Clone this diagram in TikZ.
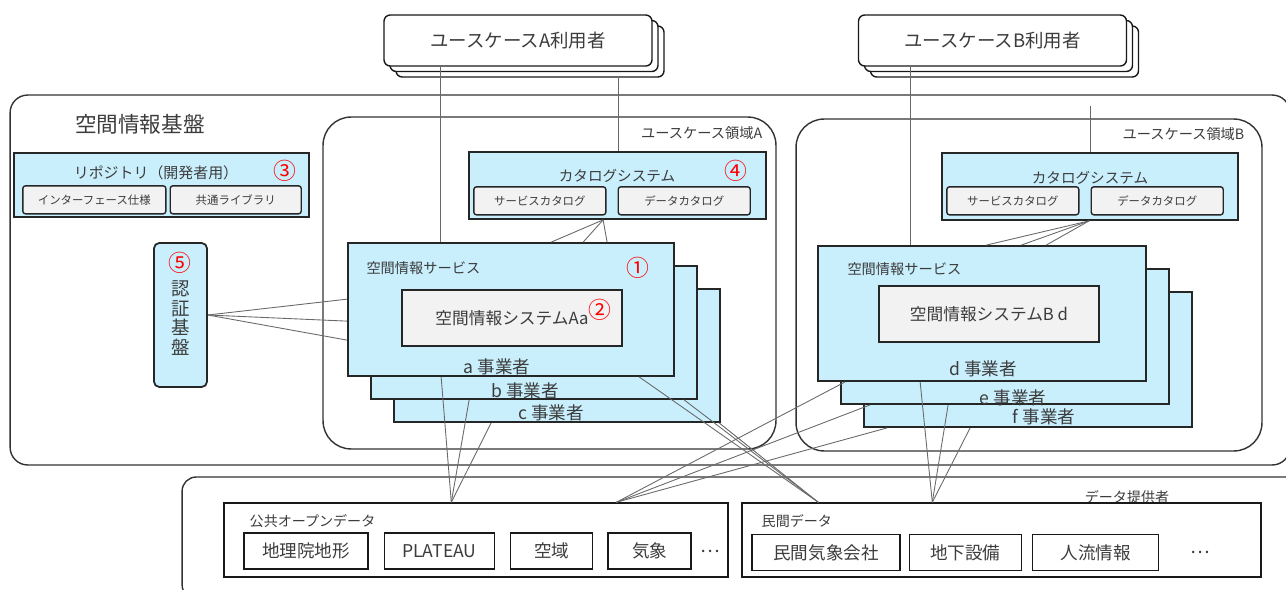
\documentclass[tikz,border=0pt]{standalone}
\usepackage{fontspec}
\setmainfont{Noto Sans CJK JP}
\usepackage{tikz}
\usetikzlibrary{positioning}
\definecolor{skyfill}{RGB}{201,239,253}
\definecolor{boxgray}{RGB}{242,242,242}
\definecolor{inkgray}{RGB}{60,60,60}
\definecolor{linkgray}{RGB}{105,105,105}
\newcommand{\fsz}[1]{\fontsize{#1}{#1}\selectfont}

\begin{document}
\begin{tikzpicture}[x=0.02cm,y=-0.02cm,
        every node/.style={text=inkgray},
        frame/.style={draw=black!80, line width=0.8pt, rounded corners=#1, inner sep=0pt},
        bluebox/.style={draw=black!85, fill=skyfill, line width=1pt, inner sep=0pt},
        sysbox/.style={draw=black!85, fill=boxgray, line width=1pt, inner sep=0pt, font=\fsz{9.5pt}},
        subbox/.style={draw=black!85, fill=boxgray, line width=0.8pt, rounded corners=1.5pt,
            inner sep=0pt, minimum height=0.56cm, font=\fsz{6.5pt}},
        usrbox/.style={draw=black!90, fill=white, line width=0.8pt, rounded corners=3.5pt,
            minimum width=5.36cm, minimum height=1.02cm, inner sep=0pt, font=\fsz{10.5pt}},
        databox/.style={draw=black!90, fill=white, line width=0.8pt, inner sep=0pt},
        itembox/.style={draw=black!90, fill=white, line width=0.8pt, inner sep=0pt,
            minimum height=0.72cm, font=\fsz{10pt}},
        tag/.style={inner sep=0pt, font=\fsz{8.1pt}},
        opname/.style={inner sep=0pt, font=\fsz{10pt}},
        num/.style={text=red, inner sep=0pt, font=\fsz{13pt}},
        link/.style={draw=linkgray, line width=0.5pt}
        ]
        \useasboundingbox (0,0) rectangle (1286,589);

        \node [usrbox] (uA3) at (530,51.5) {};
        \node [usrbox, xshift=-0.12cm, yshift=0.11cm] (uA2) at (uA3) {};
        \node [usrbox, xshift=-0.12cm, yshift=0.11cm] (uA) at (uA2) {ユースケースA利用者};
        \node [usrbox] (uB3) at (1004.5,51.5) {};
        \node [usrbox, xshift=-0.12cm, yshift=0.11cm] (uB2) at (uB3) {};
        \node [usrbox, xshift=-0.12cm, yshift=0.11cm] (uB) at (uB2) {ユースケースB利用者};

        \node [frame=10pt, minimum width=25.6cm, minimum height=7.4cm] (base) at (650,280) {};
        \node [font=\fsz{12.3pt}] (basettl) at (140,124) {空間情報基盤};

        \node [frame=16pt, minimum width=9.06cm, minimum height=6.64cm] (ucA) at (549.5,283) {};
        \node [tag, below left=0.2cm and 0.28cm of ucA.north east] (ucAttl) {ユースケース領域A};
        \node [frame=16pt, minimum width=9.32cm, minimum height=6.64cm] (ucB) at (1029,285) {};
        \node [tag, below left=0.18cm and 0.36cm of ucB.north east] (ucBttl) {ユースケース領域B};

        \node [bluebox, minimum width=5.9cm, minimum height=1.28cm] (repo) at (161.5,185) {};
        \node [font=\fsz{8.5pt}] (repottl) at (156,173) {リポジトリ（開発者用）};
        \node [num] at (285,171) {③};
        \node [subbox, minimum width=2.86cm, below right=0.66cm and 0.18cm of repo.north west] (ifspec) {インターフェース仕様};
        \node [subbox, minimum width=2.62cm, right=0.06cm of ifspec] (commonlib) {共通ライブラリ};

        \node [bluebox, minimum width=5.94cm, minimum height=1.34cm] (catA) at (617.5,185.5) {};
        \node [font=\fsz{8.3pt}] (catAttl) at (617,176) {カタログシステム};
        \node [num] at (736,171) {④};
        \node [subbox, minimum width=2.64cm, below right=0.7cm and 0.1cm of catA.north west] (svccatA) {サービスカタログ};
        \node [subbox, minimum width=2.64cm, right=0.22cm of svccatA] (datcatA) {データカタログ};

        \node [bluebox, minimum width=5.92cm, minimum height=1.34cm] (catB) at (1090,186.5) {};
        \node [font=\fsz{8.3pt}] (catBttl) at (1090,178) {カタログシステム};
        \node [subbox, minimum width=2.64cm, below right=0.68cm and 0.1cm of catB.north west] (svccatB) {サービスカタログ};
        \node [subbox, minimum width=2.64cm, right=0.22cm of svccatB] (datcatB) {データカタログ};

        \node [bluebox, rounded corners=3pt, minimum width=1.06cm, minimum height=2.88cm] (auth) at (180.5,315) {};
        \node [num] at (180,263) {⑤};
        \node [inner sep=0pt, align=center, font=\fontsize{10.5pt}{11.2pt}\selectfont] (authttl) at (180.5,318) {認\\証\\基\\盤};

        \node [bluebox, minimum width=6.52cm, minimum height=2.66cm] (svcAc) at (557,355.5) {};
        \node [bluebox, minimum width=6.52cm, minimum height=2.66cm, xshift=-0.46cm, yshift=0.46cm] (svcAb) at (svcAc) {};
        \node [bluebox, minimum width=6.52cm, minimum height=2.66cm, xshift=-0.46cm, yshift=0.46cm] (svcA) at (svcAb) {};
        \node [tag, below right=0.38cm and 0.38cm of svcA.north west] (svcAttl) {空間情報サービス};
        \node [num] at (638,268) {①};
        \node [sysbox, minimum width=4.4cm, minimum height=1.12cm] (sysA) at (512,318) {空間情報システムAa};
        \node [num] at (600,310) {②};
        \node [opname] at (497,367) {a 事業者};
        \node [opname] at (525,391) {b 事業者};
        \node [opname] at (551,413) {c 事業者};

        \node [bluebox, minimum width=6.56cm, minimum height=2.7cm] (svcBc) at (1028,359.5) {};
        \node [bluebox, minimum width=6.56cm, minimum height=2.7cm, xshift=-0.46cm, yshift=0.46cm] (svcBb) at (svcBc) {};
        \node [bluebox, minimum width=6.56cm, minimum height=2.7cm, xshift=-0.46cm, yshift=0.46cm] (svcB) at (svcBb) {};
        \node [tag, below right=0.34cm and 0.6cm of svcB.north west] (svcBttl) {空間情報サービス};
        \node [sysbox, minimum width=4.4cm, minimum height=1.12cm] (sysB) at (989,314) {空間情報システムB d};
        \node [opname] at (983,369) {d 事業者};
        \node [opname] at (1013,398) {e 事業者};
        \node [opname] at (1044,417) {f 事業者};

        \node [frame=8pt, minimum width=22.36cm, minimum height=2.44cm] (prov) at (741,538) {};
        \node [font=\fsz{8pt}] (provttl) at (1127,497) {データ提供者};

        \node [databox, minimum width=10.08cm, minimum height=1.48cm] (pubD) at (476,540) {};
        \node [inner sep=0pt, font=\fsz{8pt}, below right=0.24cm and 0.52cm of pubD.north west] (pubttl) {公共オープンデータ};
        \node [itembox, minimum width=2.48cm] (gsi) at (306,551) {地理院地形};
        \node [itembox, minimum width=2.2cm, right=0.3cm of gsi] (plateau) {PLATEAU};
        \node [itembox, minimum width=1.64cm, right=0.3cm of plateau] (airsp) {空域};
        \node [itembox, minimum width=1.66cm, right=0.28cm of airsp] (wthr) {気象};
        \node [inner sep=0pt, font=\fsz{10.5pt}, right=0.16cm of wthr] (pubmore) {…};

        \node [databox, minimum width=10.38cm, minimum height=1.48cm] (privD) at (1001.5,540) {};
        \node [inner sep=0pt, font=\fsz{8pt}, below right=0.24cm and 0.4cm of privD.north west] (privttl) {民間データ};
        \node [itembox, minimum width=2.96cm] (pwx) at (826,552.5) {民間気象会社};
        \node [itembox, minimum width=2.24cm, right=0.16cm of pwx] (ugeq) {地下設備};
        \node [itembox, minimum width=2.52cm, right=0.2cm of ugeq] (flow) {人流情報};
        \node [inner sep=0pt, font=\fsz{10.5pt}, right=0.62cm of flow] (privmore) {…};

        \coordinate (uAdrop) at (440,0);
        \coordinate (uAcat) at (618,0);
        \coordinate (uBdrop) at (910,0);
        \coordinate (uBcat) at (1090,106);

        \path [link]
        (uA.south -| uAdrop) edge (svcA.north -| uAdrop)
        (uA3.south -| uAcat) edge (catA.north -| uAcat)
        (uB.south -| uBdrop) edge (svcB.north -| uBdrop)
        (uBcat) edge (catB.north -| uBcat)
        ;

        \foreach \d in {4.08,4.72,5.2}
            \draw [link] ([xshift=2.7cm]catA.south west) -- ([xshift=\d cm]svcA.north west);
        \foreach \d in {3.38,4.08,4.58}
            \draw [link] ([xshift=2.96cm]catB.south west) -- ([xshift=\d cm]svcB.north west);
        \foreach \d in {1.14,1.58,1.96}
            \draw [link] (auth.east) -- ([yshift=-\d cm]svcA.north west);

        \foreach \src/\d in {svcA/1.88,svcAb/1.98,svcAc/1.96}
            \draw [link] ([xshift=\d cm]\src.south west) -- ([xshift=4.56cm]pubD.north west);
        \foreach \src/\d in {svcA/5.84,svcAb/6.28,svcAc/6.52}
            \draw [link] ([xshift=\d cm]\src.south west) -- ([xshift=1.54cm]privD.north west);
        \foreach \src/\d in {svcB/0.56,svcBb/0.6,svcBc/0.48}
            \draw [link] ([xshift=\d cm]\src.south west) -- ([xshift=7.86cm]pubD.north west);
        \foreach \src/\d in {svcB/2.06,svcBb/2.16,svcBc/2.14}
            \draw [link] ([xshift=\d cm]\src.south west) -- ([xshift=3.82cm]privD.north west);
\end{tikzpicture}
\end{document}
